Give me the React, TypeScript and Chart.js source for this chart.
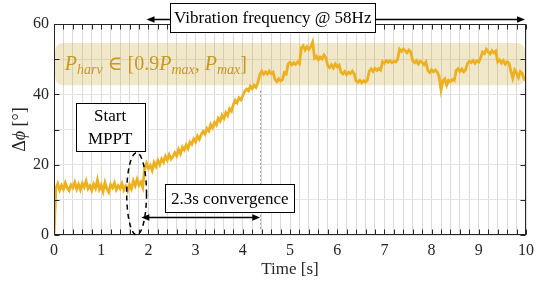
import React, { useEffect, useRef } from 'react';
import { Chart, registerables } from 'chart.js';

Chart.register(...registerables);

// ---------- data ----------
const SAMPLE_STEP_S = 0.04; // sampling interval of the trace [s]
const phaseDeg = [
  0, 13.2, 14.6, 12.8, 14.1, 13.0, 14.8, 13.4, 12.6, 14.2,
  13.5, 15.0, 13.1, 14.4, 12.9, 14.7, 13.6, 15.3, 13.2, 14.0,
  12.7, 14.5, 13.3, 15.6, 13.0, 14.2, 12.4, 14.9, 13.1, 12.2,
  14.3, 13.4, 14.8, 12.9, 14.0, 13.2, 14.6, 12.8, 13.9, 12.6,
  14.3, 13.1, 15.4, 14.0, 15.8, 14.2, 15.1, 13.6, 18.8, 20.4,
  18.9, 19.8, 18.4, 20.6, 19.5, 21.2, 20.0, 21.6, 20.7, 22.4,
  21.3, 22.8, 21.6, 22.3, 23.4, 22.5, 24.3, 23.1, 25.0, 24.2,
  25.6, 24.6, 26.4, 25.8, 27.3, 26.5, 28.1, 27.2, 28.6, 29.5,
  28.7, 30.3, 29.6, 31.4, 30.5, 32.0, 31.3, 33.2, 32.4, 34.0,
  33.1, 34.8, 34.0, 35.9, 35.2, 37.1, 38.3, 37.6, 39.0, 38.4,
  39.6, 40.8, 41.5, 41.0, 42.3, 41.6, 42.6, 42.0, 43.4, 45.6,
  46.6, 45.7, 46.4, 45.8, 46.6, 45.9, 46.3, 44.3, 43.6, 44.4,
  43.8, 44.2, 46.2, 45.8, 48.6, 49.1, 48.4, 49.0, 48.5, 49.2,
  48.7, 53.2, 53.8, 52.6, 53.5, 52.8, 53.6, 54.9, 50.3, 50.8,
  49.8, 50.6, 50.1, 51.2, 50.4, 48.2, 47.6, 48.4, 47.5, 48.6,
  47.8, 48.3, 46.3, 45.8, 46.5, 45.6, 46.3, 45.9, 46.6, 45.8,
  43.8, 43.4, 44.0, 43.3, 43.9, 43.5, 44.1, 46.6, 47.2, 46.5,
  47.4, 46.8, 47.3, 46.9, 49.3, 48.8, 49.6, 49.1, 49.5, 49.0,
  49.4, 49.2, 50.0, 52.8, 52.2, 52.9, 52.4, 51.8, 52.6, 52.0,
  49.5, 49.0, 49.6, 48.6, 49.4, 49.1, 48.4, 49.2, 46.8, 46.2,
  47.0, 46.4, 46.9, 46.3, 45.1, 41.2, 43.8, 44.4, 42.6, 44.0,
  43.6, 44.2, 43.9, 46.8, 47.3, 46.5, 47.2, 46.4, 47.0, 48.8,
  49.4, 49.0, 49.6, 48.8, 49.5, 49.2, 50.4, 52.0, 51.6, 52.8,
  52.1, 51.5, 52.4, 51.8, 52.3, 49.3, 49.8, 48.9, 49.6, 48.6,
  49.3, 48.9, 46.6, 44.6, 46.9, 46.1, 44.8, 46.5, 46.0, 44.3,
  44.0,
];
const xTickLabels = ['0', '1', '2', '3', '4', '5', '6', '7', '8', '9', '10'];
const yTickLabels = ['0', '20', '40', '60'];
const bandRange = [42.6, 54.6]; // P_harv in [0.9 Pmax, Pmax] region [deg]
const mpptStartS = 1.75;
const convergedS = 4.37;
const vibrationSpanS = [1.96, 9.98];

// ---------- styling ----------
const SERIF = '"Liberation Serif", "Times New Roman", "DejaVu Serif", serif';
const LINE_COLOR = '#EDB120';
const AXIS_COLOR = '#262626';

type Seg = { t: string; size: number; italic?: boolean; dy?: number };

function segWidth(ctx: CanvasRenderingContext2D, segs: Seg[]) {
  let w = 0;
  for (const s of segs) {
    ctx.font = `${s.italic ? 'italic ' : ''}${s.size}px ${SERIF}`;
    w += ctx.measureText(s.t).width;
  }
  return w;
}

function drawSegs(ctx: CanvasRenderingContext2D, segs: Seg[], x: number, y: number) {
  let cx = x;
  ctx.textBaseline = 'alphabetic';
  ctx.textAlign = 'left';
  for (const s of segs) {
    ctx.font = `${s.italic ? 'italic ' : ''}${s.size}px ${SERIF}`;
    ctx.fillText(s.t, cx, y + (s.dy || 0));
    cx += ctx.measureText(s.t).width;
  }
}

function roundRectPath(ctx: CanvasRenderingContext2D, x: number, y: number, w: number, h: number, r: number) {
  ctx.beginPath();
  ctx.moveTo(x + r, y);
  ctx.lineTo(x + w - r, y);
  ctx.quadraticCurveTo(x + w, y, x + w, y + r);
  ctx.lineTo(x + w, y + h - r);
  ctx.quadraticCurveTo(x + w, y + h, x + w - r, y + h);
  ctx.lineTo(x + r, y + h);
  ctx.quadraticCurveTo(x, y + h, x, y + h - r);
  ctx.lineTo(x, y + r);
  ctx.quadraticCurveTo(x, y, x + r, y);
  ctx.closePath();
}

function arrowHead(ctx: CanvasRenderingContext2D, x: number, y: number, dir: number) {
  ctx.beginPath();
  ctx.moveTo(x, y);
  ctx.lineTo(x - dir * 8, y - 3.2);
  ctx.lineTo(x - dir * 8, y + 3.2);
  ctx.closePath();
  ctx.fill();
}

function textBox(ctx: CanvasRenderingContext2D, x1: number, y1: number, x2: number, y2: number, lines: string[], size: number) {
  ctx.save();
  ctx.fillStyle = '#ffffff';
  ctx.fillRect(x1, y1, x2 - x1, y2 - y1);
  ctx.strokeStyle = '#000';
  ctx.lineWidth = 1;
  ctx.strokeRect(Math.round(x1) + 0.5, Math.round(y1) + 0.5, Math.round(x2 - x1), Math.round(y2 - y1));
  ctx.fillStyle = '#000';
  ctx.font = `${size}px ${SERIF}`;
  ctx.textAlign = 'center';
  ctx.textBaseline = 'middle';
  const cx = (x1 + x2) / 2;
  const lh = size * 1.3;
  const cy = (y1 + y2) / 2 - ((lines.length - 1) * lh) / 2;
  lines.forEach((l, i) => ctx.fillText(l, cx, cy + i * lh + 1));
  ctx.restore();
}

const overlayPlugin = {
  id: 'overlay',
  beforeDatasetsDraw(chart: any) {
    const { ctx, chartArea: a, scales } = chart;
    const x = scales.x, y = scales.y;
    ctx.save();
    // band
    const top = y.getPixelForValue(bandRange[1]);
    const bot = y.getPixelForValue(bandRange[0]);
    ctx.fillStyle = 'rgba(205,165,55,0.27)';
    roundRectPath(ctx, a.left + 1, top, a.right - a.left - 2, bot - top, 9);
    ctx.fill();
    // band label
    ctx.fillStyle = '#c49a22';
    drawSegs(ctx, [
      { t: 'P', size: 20, italic: true },
      { t: 'harv', size: 14, italic: true, dy: 4 },
      { t: ' \u2208 [0.9', size: 20 },
      { t: 'P', size: 20, italic: true },
      { t: 'max', size: 14, italic: true, dy: 4 },
      { t: ', ', size: 20 },
      { t: 'P', size: 20, italic: true },
      { t: 'max', size: 14, italic: true, dy: 4 },
      { t: ']', size: 20 },
    ], x.getPixelForValue(0.23), y.getPixelForValue(47.0));
    // dotted convergence marker
    ctx.strokeStyle = '#9a9a9a';
    ctx.lineWidth = 1;
    ctx.setLineDash([2, 2]);
    const dx = Math.round(x.getPixelForValue(convergedS)) + 0.5;
    ctx.beginPath();
    ctx.moveTo(dx, y.getPixelForValue(41));
    ctx.lineTo(dx, y.getPixelForValue(1.5));
    ctx.stroke();
    ctx.restore();
  },
  afterDraw(chart: any) {
    const { ctx, chartArea: a, scales } = chart;
    const x = scales.x, y = scales.y;
    ctx.save();
    // axes box
    ctx.strokeStyle = AXIS_COLOR;
    ctx.lineWidth = 1;
    const L = Math.round(a.left) + 0.5, R = Math.round(a.right) - 0.5;
    const T = Math.round(a.top) + 0.5, B = Math.round(a.bottom) - 0.5;
    ctx.strokeRect(L, T, R - L, B - T);
    // inward ticks
    ctx.beginPath();
    for (const t of x.ticks) {
      const px = Math.round(x.getPixelForValue(t.value)) + 0.5;
      ctx.moveTo(px, B); ctx.lineTo(px, B - 5);
      ctx.moveTo(px, T); ctx.lineTo(px, T + 5);
    }
    for (const t of y.ticks) {
      const py = Math.round(y.getPixelForValue(t.value)) + 0.5;
      ctx.moveTo(L, py); ctx.lineTo(L + 5, py);
      ctx.moveTo(R, py); ctx.lineTo(R - 5, py);
    }
    ctx.stroke();

    // axis titles
    ctx.fillStyle = AXIS_COLOR;
    ctx.font = `17px ${SERIF}`;
    ctx.textAlign = 'center';
    ctx.textBaseline = 'alphabetic';
    ctx.fillText('Time [s]', (a.left + a.right) / 2, 274);
    const ySegs: Seg[] = [
      { t: '\u0394', size: 18 },
      { t: '\u03D5', size: 18, italic: true },
      { t: ' [\u00B0]', size: 18 },
    ];
    const w = segWidth(ctx, ySegs);
    ctx.translate(25, (a.top + a.bottom) / 2);
    ctx.rotate(-Math.PI / 2);
    drawSegs(ctx, ySegs, -w / 2, 0);
    ctx.setTransform(1, 0, 0, 1, 0, 0);

    // ellipse around MPPT start
    ctx.strokeStyle = '#000';
    ctx.lineWidth = 1.5;
    ctx.setLineDash([5, 4]);
    const ecx = x.getPixelForValue(mpptStartS);
    const ecy = y.getPixelForValue(11.7);
    const erx = x.getPixelForValue(mpptStartS + 0.21) - ecx;
    const ery = y.getPixelForValue(0) - ecy;
    ctx.beginPath();
    ctx.ellipse(ecx, ecy, erx, ery, 0, 0, Math.PI * 2);
    ctx.stroke();
    ctx.setLineDash([]);

    // convergence arrow
    ctx.fillStyle = '#000';
    ctx.lineWidth = 1.5;
    const ay = Math.round(y.getPixelForValue(5.2)) + 0.5;
    const ax1 = x.getPixelForValue(1.85), ax2 = x.getPixelForValue(convergedS);
    ctx.beginPath();
    ctx.moveTo(ax1 + 4, ay); ctx.lineTo(ax2 - 4, ay);
    ctx.stroke();
    arrowHead(ctx, ax1, ay, -1);
    arrowHead(ctx, ax2, ay, 1);

    // vibration arrows
    const vy = Math.round(y.getPixelForValue(61.4)) + 0.5;
    const bx1 = x.getPixelForValue(2.46), bx2 = x.getPixelForValue(6.81);
    const vx1 = x.getPixelForValue(vibrationSpanS[0]), vx2 = x.getPixelForValue(vibrationSpanS[1]);
    ctx.beginPath();
    ctx.moveTo(vx1 + 4, vy); ctx.lineTo(bx1, vy);
    ctx.moveTo(bx2, vy); ctx.lineTo(vx2 - 4, vy);
    ctx.stroke();
    arrowHead(ctx, vx1, vy, -1);
    arrowHead(ctx, vx2, vy, 1);

    // text boxes
    textBox(ctx, bx1, y.getPixelForValue(66.0), bx2, y.getPixelForValue(57.7), ['Vibration frequency @ 58Hz'], 17);
    textBox(ctx, x.getPixelForValue(0.46), y.getPixelForValue(37.5), x.getPixelForValue(1.92), y.getPixelForValue(23.9), ['Start', 'MPPT'], 17);
    textBox(ctx, x.getPixelForValue(2.36), y.getPixelForValue(14.5), x.getPixelForValue(5.09), y.getPixelForValue(6.5), ['2.3s convergence'], 17);
    ctx.restore();
  },
};

export default function App() {
  const ref = useRef<HTMLCanvasElement | null>(null);
  useEffect(() => {
    if (!ref.current) return;
    const points = phaseDeg.map((v, i) => ({ x: +(i * SAMPLE_STEP_S).toFixed(2), y: v }));
    const isInt = (v: number) => Math.abs(v - Math.round(v)) < 1e-6;
    const chart = new Chart(ref.current, {
      type: 'line',
      data: {
        datasets: [{
          data: points,
          borderColor: LINE_COLOR,
          borderWidth: 2.8,
          pointRadius: 0,
          tension: 0,
          fill: false,
        }],
      },
      options: {
        animation: false,
        responsive: false,
        maintainAspectRatio: false,
        layout: { padding: { left: 0, right: 7, top: 24, bottom: 0 } },
        plugins: { legend: { display: false }, tooltip: { enabled: false } },
        scales: {
          x: {
            type: 'linear',
            min: 0,
            max: 10,
            afterFit: (s: any) => { s.height = 49; },
            ticks: {
              stepSize: 0.2,
              autoSkip: false,
              maxRotation: 0,
              minRotation: 0,
              maxTicksLimit: 100,
              padding: 6,
              color: AXIS_COLOR,
              font: { family: SERIF, size: 16 },
              callback: (v: any) => {
                const n = Number(v);
                if (!isInt(n)) return '';
                return xTickLabels[Math.round(n)] ?? '';
              },
            },
            grid: { color: '#dadada', lineWidth: 1, drawTicks: false },
            border: { display: false },
          },
          y: {
            min: 0,
            max: 60,
            afterFit: (s: any) => { s.width = 54; },
            ticks: {
              stepSize: 10,
              padding: 5,
              color: AXIS_COLOR,
              font: { family: SERIF, size: 16 },
              callback: (v: any) => {
                const n = Math.round(Number(v));
                return n % 20 === 0 ? yTickLabels[n / 20] : '';
              },
            },
            grid: { color: '#e4e4e4', lineWidth: 1, drawTicks: false },
            border: { display: false },
          },
        },
      },
      plugins: [overlayPlugin],
    } as any);
    return () => chart.destroy();
  }, []);
  return (
    <div style={{ position: 'fixed', left: 0, top: 0, width: 540, height: 284, background: '#fff' }}>
      <canvas ref={ref} width={540} height={284} />
    </div>
  );
}
